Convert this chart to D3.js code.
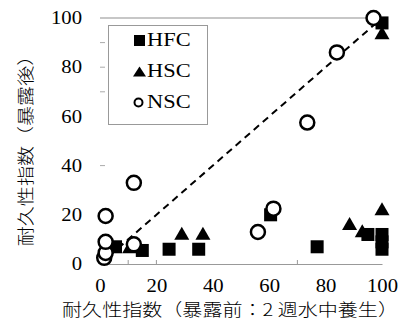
<!DOCTYPE html>
<html><head><meta charset="utf-8">
<script src="https://cdn.jsdelivr.net/npm/d3@7"></script>
<style>body{margin:0;background:#fff} svg{display:block}</style>
</head><body><svg id="c" width="405" height="336"></svg>
<script>
// ---- data ----
const xTickLabels = [0, 20, 40, 60, 80, 100];
const yTickLabels = [0, 20, 40, 60, 80, 100];
const xMinorTicks = [10, 20, 70];
const yMinorTicks = [40, 70, 80, 90];
const seriesNames = ["HFC", "HSC", "NSC"];
const hfcX = [5.5, 15, 24.5, 35, 60.5, 77, 95, 100, 100, 100, 100];
const hfcY = [7, 5.5, 6, 6, 20, 7, 12, 6, 9, 12, 98];
const hscX = [10.5, 29, 36.5, 88.5, 93, 100, 100];
const hscY = [7, 12.5, 12.5, 16.5, 13.5, 22.5, 94];
const nscX = [1.5, 2, 2, 2, 12, 12, 56, 61.5, 73.5, 84, 97];
const nscY = [2.5, 4.5, 9, 19.5, 8, 33, 13, 22.5, 57.5, 86, 100];
const refX = [0, 100];
const refY = [0, 100];
const xTitle = "耐久性指数（暴露前：2 週水中養生）";
const yTitle = "耐久性指数（暴露後）";

// ---- layout ----
const svg = d3.select("#c");
const S = 1.15; // horizontal text stretch
const serif = "'Liberation Serif','Times New Roman',serif";
const cjk = "'Noto Sans CJK JP','Noto Sans CJK SC',sans-serif";
const x = d3.scaleLinear().domain([0, 100]).range([100, 382]);
const y = d3.scaleLinear().domain([0, 100]).range([264, 18]);
const zip = (a, b) => a.map((v, i) => [v, b[i]]);

// top gridline at 100
svg.append("line").attr("x1", x(0)).attr("x2", x(100)).attr("y1", y(100)).attr("y2", y(100))
  .attr("stroke", "#b4b4b4").attr("stroke-width", 1.6);

// y axis labels
const ya = svg.append("g").attr("transform", `translate(${x(0)},0)`)
  .call(d3.axisLeft(y).tickValues(yTickLabels).tickSize(0).tickFormat(d3.format("d")));
ya.select(".domain").remove();
ya.selectAll("text").attr("x", -18 / S).attr("transform", `scale(${S},1)`)
  .style("font-family", serif).style("font-size", "18px").attr("fill", "#000");

// y minor ticks
svg.selectAll(".ymt").data(yMinorTicks).join("line")
  .attr("x1", x(0)).attr("x2", x(0) + 5).attr("y1", d => y(d)).attr("y2", d => y(d))
  .attr("stroke", "#aaa").attr("stroke-width", 1);

// x axis
const xa = svg.append("g").attr("transform", `translate(0,${y(0)})`)
  .call(d3.axisBottom(x).tickValues(xTickLabels).tickSize(0).tickFormat(d3.format("d")));
xa.select(".domain").attr("stroke", "#999").attr("stroke-width", 1);
xa.selectAll("text").attr("y", 28).attr("dy", 0).attr("transform", `scale(${S},1)`)
  .style("font-family", serif).style("font-size", "18px").attr("fill", "#000");
svg.selectAll(".xmt").data(xMinorTicks).join("line")
  .attr("x1", d => x(d)).attr("x2", d => x(d)).attr("y1", y(0)).attr("y2", y(0) - 4)
  .attr("stroke", "#999").attr("stroke-width", 1);

// reference dashed line
svg.append("path").datum(zip(refX, refY))
  .attr("d", d3.line().x(d => x(d[0])).y(d => y(d[1])))
  .attr("fill", "none").attr("stroke", "#000").attr("stroke-width", 2)
  .attr("stroke-dasharray", "7,5");

// markers
const sq = 13;
svg.selectAll(".hfc").data(zip(hfcX, hfcY)).join("rect")
  .attr("x", d => x(d[0]) - sq / 2).attr("y", d => y(d[1]) - sq / 2)
  .attr("width", sq).attr("height", sq).attr("fill", "#000");
const tri = (cx, cy, w, h) => `M${cx},${cy - h / 2}L${cx + w / 2},${cy + h / 2}L${cx - w / 2},${cy + h / 2}Z`;
svg.selectAll(".hsc").data(zip(hscX, hscY)).join("path")
  .attr("d", d => tri(x(d[0]), y(d[1]), 15, 13)).attr("fill", "#000");
svg.selectAll(".nsc").data(zip(nscX, nscY)).join("circle")
  .attr("cx", d => x(d[0])).attr("cy", d => y(d[1])).attr("r", 7)
  .attr("fill", "#fff").attr("stroke", "#000").attr("stroke-width", 2.5);

// legend
const lg = svg.append("g");
lg.append("rect").attr("x", 108.5).attr("y", 25.5).attr("width", 99).attr("height", 99)
  .attr("fill", "#fff").attr("stroke", "#999").attr("stroke-width", 1);
const ly = [46.5, 77, 108];
lg.append("rect").attr("x", 134).attr("y", 35).attr("width", 11).attr("height", 11).attr("fill", "#000");
lg.append("path").attr("d", tri(139.5, 71.5, 13, 10)).attr("fill", "#000");
lg.append("circle").attr("cx", 138.5).attr("cy", 102.5).attr("r", 4).attr("fill", "#fff")
  .attr("stroke", "#000").attr("stroke-width", 2);
lg.selectAll(".lt").data(seriesNames).join("text")
  .attr("x", 147 / S).attr("y", (d, i) => ly[i]).attr("transform", `scale(${S},1)`)
  .style("font-family", serif).style("font-size", "19.5px").attr("fill", "#000").text(d => d);

// axis titles
svg.append("text").attr("transform", `translate(230,316) scale(1.18,1)`)
  .attr("text-anchor", "middle").style("font-family", cjk).style("font-size", "17px")
  .style("font-weight", 300).attr("fill", "#000").text(xTitle);
svg.append("text").attr("transform", `translate(32,146) rotate(-90) scale(1.18,1)`)
  .attr("text-anchor", "middle").style("font-family", cjk).style("font-size", "17px")
  .style("font-weight", 300).attr("fill", "#000").text(yTitle);
</script></body></html>
